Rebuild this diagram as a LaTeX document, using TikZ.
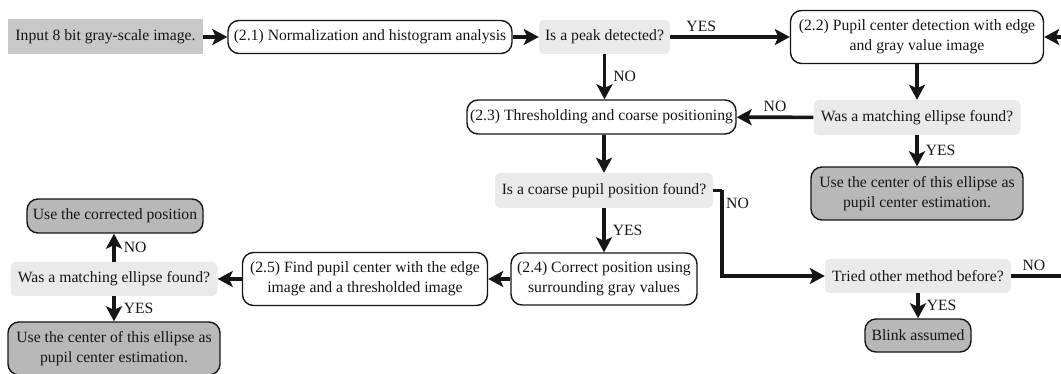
\documentclass[tikz,border=0pt]{standalone}
\usepackage{fontspec}
\setmainfont{Liberation Serif}
\usetikzlibrary{arrows.meta}
\definecolor{ingray}{RGB}{200,200,200}
\definecolor{decgray}{RGB}{234,234,234}
\definecolor{resgray}{RGB}{184,184,184}
\definecolor{ink}{RGB}{22,22,22}
\begin{document}
\begin{tikzpicture}[x=1pt,y=-1pt,
  every node/.style={font=\fontsize{15.7}{20}\selectfont, text=ink, inner sep=0pt, align=center},
  inbox/.style={fill=ingray},
  proc/.style={draw=ink, line width=1.4pt, fill=white, rounded corners=11pt},
  dec/.style={fill=decgray, rounded corners=5pt},
  res/.style={draw=ink, line width=1.4pt, fill=resgray, rounded corners=11pt},
  flow/.style={draw=ink, line width=3.6pt, -{Stealth[length=15pt,width=16pt,inset=3.5pt]}},
  wire/.style={draw=ink, line width=3.6pt},
  lbl/.style={fill=none}]
\useasboundingbox (0,0) rectangle (1061,374);

% top row
\node[inbox, minimum width=195pt, minimum height=35pt] (input) at (105.5,37) {Input 8 bit gray-scale image.};
\node[proc, minimum width=284pt, minimum height=33pt] (p21) at (370,37) {(2.1) Normalization and histogram analysis};
\node[dec, minimum width=131pt, minimum height=34pt] (peak) at (604.5,37) {Is a peak detected?};
\node[proc, minimum width=253pt, minimum height=53pt] (p22) at (917,37) {(2.2) Pupil center detection with edge\\and gray value image};

% second row
\node[proc, minimum width=269pt, minimum height=34pt] (p23) at (601.5,117) {(2.3) Thresholding and coarse positioning};
\node[dec, minimum width=207pt, minimum height=35pt] (matchR) at (917,117.5) {Was a matching ellipse found?};
\node[res, minimum width=212pt, minimum height=53pt] (resR) at (917,193.5) {Use the center of this ellipse as\\pupil center estimation.};

% coarse decision
\node[dec, minimum width=218pt, minimum height=35pt] (coarse) at (604,190.5) {Is a coarse pupil position found?};

% fourth row
\node[proc, minimum width=186pt, minimum height=52pt] (p24) at (604,279) {(2.4) Correct position using\\surrounding gray values};
\node[proc, minimum width=245pt, minimum height=53pt] (p25) at (365,279) {(2.5) Find pupil center with the edge\\image and a thresholded image};
\node[dec, minimum width=207pt, minimum height=34pt] (matchL) at (114,279) {Was a matching ellipse found?};
\node[res, minimum width=176pt, minimum height=34pt] (corr) at (115,216) {Use the corrected position};
\node[res, minimum width=212pt, minimum height=53pt] (resL) at (114,348.5) {Use the center of this ellipse as\\pupil center estimation.};

% fallback branch
\node[dec, minimum width=186pt, minimum height=34pt] (tried) at (918,276) {Tried other method before?};
\node[res, minimum width=106pt, minimum height=33pt] (blink) at (918,335.5) {Blink assumed};

\coordinate (bend) at (722,190.5);
\coordinate (loop) at (1080,276);

% connectors
\draw[flow] (input) -- (p21);
\draw[flow] (p21) -- (peak);
\draw[flow] (peak) -- node[lbl, above=4pt, pos=0.26] {YES} (p22);
\draw[flow] (peak.south) -- node[lbl, right=7pt] {NO} (peak.south |- p23.north);
\draw[flow] (p22.south) -- (p22.south |- matchR.north);
\draw[flow] (matchR) -- node[lbl, above=4pt] {NO} (p23);
\draw[flow] (matchR.south) -- node[lbl, right=7pt] {YES} (matchR.south |- resR.north);
\draw[flow] (p23.south -| coarse.north) -- (coarse.north);
\draw[flow] (coarse.south) -- node[lbl, right=7pt] {YES} (coarse.south |- p24.north);
\draw[wire] (coarse.east) -- (bend);
\draw[flow] (bend) |- (tried.west);
\node[lbl, anchor=west] (coarseno) at (726,203) {NO};
\draw[flow] (p24) -- (p25);
\draw[flow] (p25) -- (matchL);
\draw[flow] (matchL.north) -- node[lbl, right=8pt] {NO} (matchL.north |- corr.south);
\draw[flow] (matchL.south) -- node[lbl, right=8pt] {YES} (matchL.south |- resL.north);
\draw[flow] (tried.south) -- node[lbl, right=7pt] {YES} (tried.south |- blink.north);
\draw[wire] (tried.east) -- node[lbl, above=4pt, pos=0.33] {NO} (loop);
\draw[flow] (loop) |- (p22.east);
\end{tikzpicture}
\end{document}
